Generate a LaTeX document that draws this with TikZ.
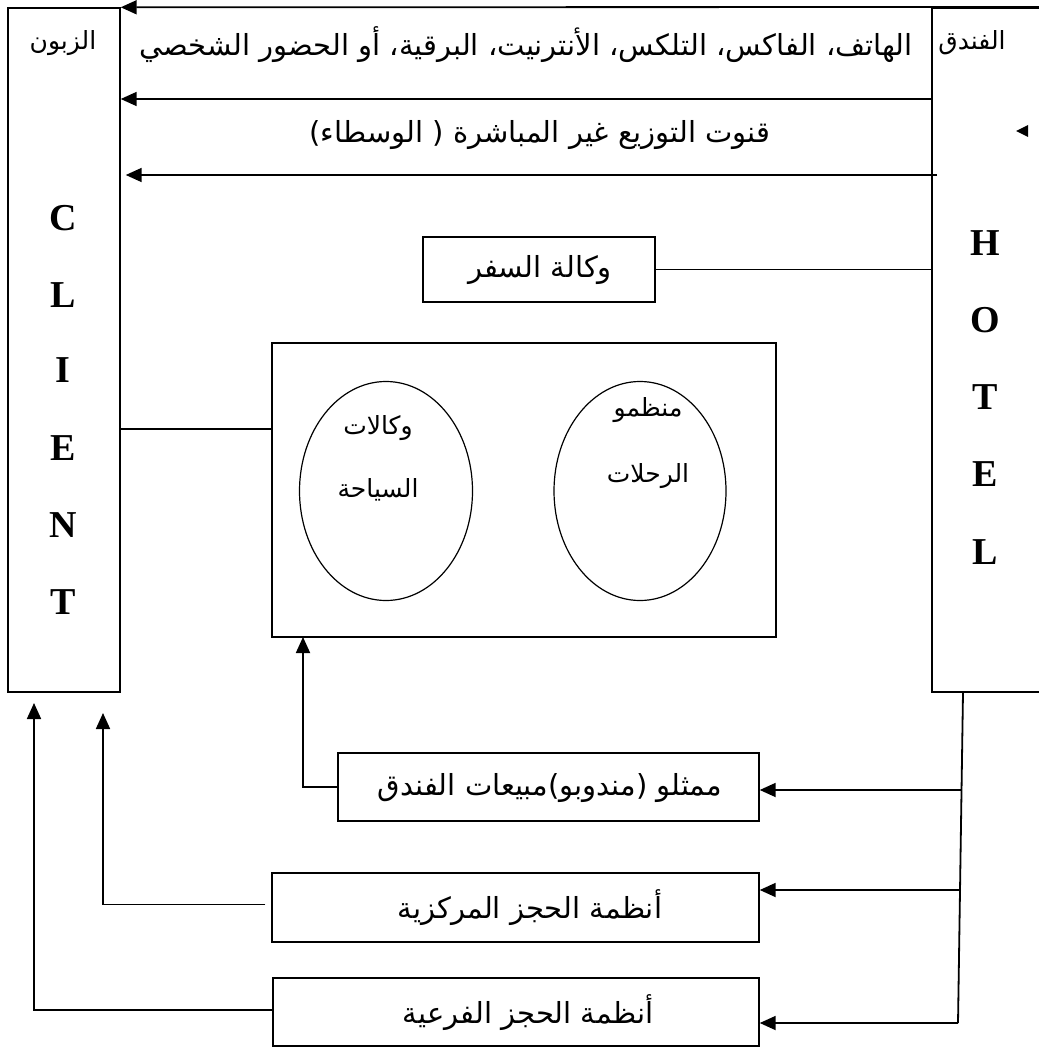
\documentclass[tikz,border=0pt]{standalone}
\usepackage{fontspec}
\setmainfont{Liberation Serif}
\newfontfamily\arabicfont[Script=Arabic]{DejaVu Sans}
\TeXXeTstate=1
\usetikzlibrary{arrows.meta,shapes.geometric,calc}

% right-to-left Arabic run
\newcommand{\artext}[1]{\arabicfont\beginR #1\endR}

\begin{document}
\begin{tikzpicture}[x=1pt,y=-1pt,
  box/.style={draw,line width=1.4pt,inner sep=0pt},
  oval/.style={draw,ellipse,line width=1.2pt,inner sep=0pt},
  conn/.style={line width=1.8pt},
  arr/.style={conn,-{Triangle[length=16pt,width=14pt]}},
  lbl/.style={inner sep=0pt,font=\fontsize{29}{32}\selectfont},
  small/.style={inner sep=0pt,font=\fontsize{25}{28}\selectfont},
  letter/.style={inner sep=0pt,font=\fontsize{38}{40}\selectfont\bfseries}]
\useasboundingbox (0,0) rectangle (1038,1048);

% the two end parties
\node[box,minimum width=112pt,minimum height=684pt] (client) at (64,350) {};
\node[box,minimum width=130pt,minimum height=684pt] (hotel) at (997,350) {};
\node[small] (clientar) at (63,43) {\artext{الزبون}};
\node[small] (hotelar) at (972,43) {\artext{الفندق}};
\foreach \l/\y [count=\i] in {C/218,L/295,I/370,E/448,N/525,T/602}
  \node[letter] (cl\i) at (63,\y) {\l};
\foreach \l/\y [count=\i] in {H/243,O/320,T/397,E/474,L/552}
  \node[letter] (ht\i) at (985,\y) {\l};

% direct channels
\coordinate (t1) at (1040,7);
\coordinate (t2) at (0,99);
\coordinate (t3) at (937,175);
\draw[arr] (t1) -- (client.north east);
\node[lbl] (direct) at (526,45) {\artext{الهاتف، الفاكس، التلكس، الأنترنيت، البرقية، أو الحضور الشخصي}};
\draw[arr] (hotel.west |- t2) -- (client.east |- t2);
\node[lbl] (indirect) at (540,135) {\artext{قنوت التوزيع غير المباشرة ( الوسطاء)}};
\draw[arr,shorten >=5pt] (t3) -- (client.east |- t3);
\fill (1016,131) -- (1028,125) -- (1028,137) -- cycle;

% travel agency
\node[box,minimum width=232pt,minimum height=65pt] (travel) at (539,269.5) {};
\node[lbl] (travelt) at (540,270) {\artext{وكالة السفر}};
\draw[conn] (travel.east) -- (hotel.west |- travel.east);

% tour operators and tourism agencies
\node[box,minimum width=504pt,minimum height=294pt] (big) at (524,490) {};
\node[oval,minimum width=173pt,minimum height=219pt] (agencies) at (386,491) {};
\node[oval,minimum width=172pt,minimum height=219pt] (operators) at (640,491) {};
\node[small] (ag1) at (378,428) {\artext{وكالات}};
\node[small] (ag2) at (378,490) {\artext{السياحة}};
\node[small] (op1) at (648,410) {\artext{منظمو}};
\node[small] (op2) at (648,476) {\artext{الرحلات}};
\coordinate (k) at (0,429);
\draw[conn] (client.east |- k) -- (big.west |- k);

% sales representatives and reservation systems
\node[box,minimum width=421pt,minimum height=68pt] (sales) at (548.5,787) {};
\node[lbl] (salest) at (550,788) {\artext{ممثلو (مندوبو)مبيعات الفندق}};
\node[box,minimum width=487pt,minimum height=69pt] (central) at (515.5,907.5) {};
\node[lbl] (centralt) at (530,908) {\artext{أنظمة الحجز المركزية}};
\node[box,minimum width=486pt,minimum height=68pt] (sub) at (516,1012) {};
\node[lbl] (subt) at (528,1013) {\artext{أنظمة الحجز الفرعية}};

% feeds from the hotel
\coordinate (r0) at (963,692);
\coordinate (r1) at (962,790);
\coordinate (r2) at (961,890);
\coordinate (r3) at (958,1023);
\draw[conn] (r0) -- (r3);
\draw[arr] (r1) -- (sales.east |- r1);
\draw[arr] (r2) -- (central.east |- r2);
\draw[arr] (r3) -- (sub.east |- r3);

% onward links
\coordinate (b1) at (303,637);
\draw[arr] (sales.west) -| (b1);
\coordinate (c2) at (103,713);
\draw[arr] ([xshift=-6pt,yshift=3pt]central.west) -| (c2);
\coordinate (c1) at (34,703);
\draw[arr] ([yshift=2pt]sub.west) -| (c1);
\end{tikzpicture}
\end{document}
